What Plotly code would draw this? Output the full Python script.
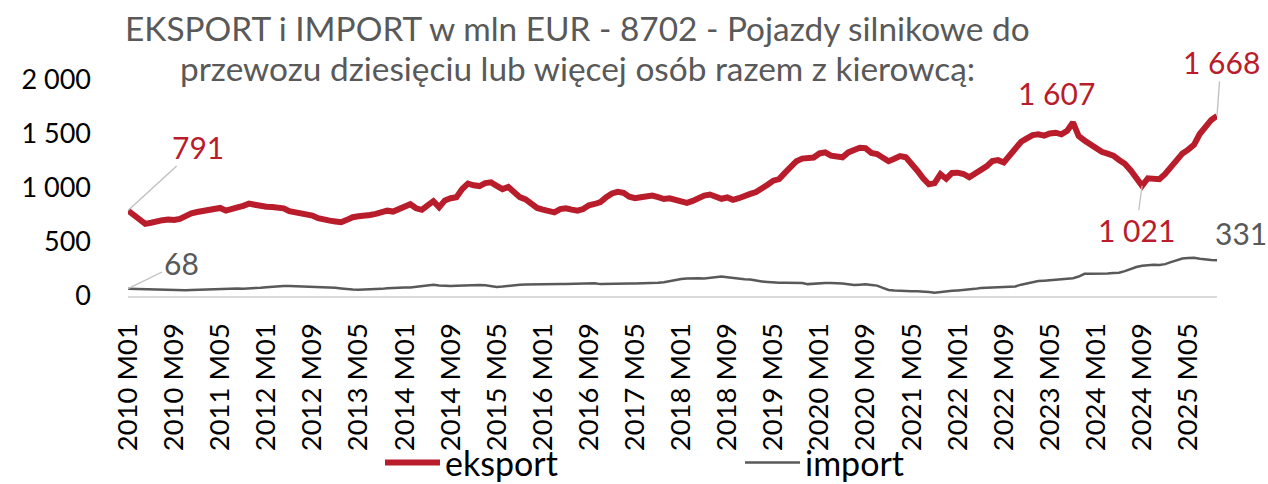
import plotly.graph_objects as go

years = list(range(2010, 2026))
months = [f"{y} M{m:02d}" for y in years for m in range(1, 13)][:190]

eksport = [
    791, 745, 700, 668, 678, 695, 702, 708, 704, 714, 742, 765,
    778, 790, 798, 812, 815, 790, 800, 820, 835, 855, 845, 830,
    826, 825, 822, 812, 785, 778, 770, 758, 745, 720, 702, 698,
    690, 683, 705, 730, 738, 740, 750, 760, 775, 790, 782, 800,
    830, 850, 812, 798, 840, 878, 822, 885, 905, 915, 990, 1040,
    1025, 1018, 1045, 1052, 1020, 990, 1010, 960, 915, 895, 860, 815,
    800, 785, 775, 805, 812, 800, 790, 805, 840, 852, 870, 915,
    950, 965, 955, 920, 905, 915, 925, 930, 915, 898, 905, 889,
    870, 862, 880, 912, 930, 940, 925, 900, 912, 890, 905, 930,
    945, 962, 990, 1030, 1068, 1082, 1140, 1200, 1248, 1272, 1278, 1282,
    1320, 1330, 1300, 1288, 1284, 1330, 1355, 1372, 1368, 1325, 1315, 1280,
    1248, 1270, 1295, 1285, 1232, 1160, 1090, 1034, 1045, 1128, 1085, 1140,
    1142, 1130, 1100, 1130, 1165, 1200, 1250, 1258, 1236, 1300, 1370, 1428,
    1460, 1490, 1497, 1485, 1505, 1512, 1497, 1530, 1607, 1480, 1440, 1405,
    1368, 1335, 1318, 1300, 1260, 1225, 1165, 1100, 1021, 1090, 1092, 1082,
    1130, 1195, 1260, 1320, 1355, 1400, 1500, 1575, 1630, 1668,
]

import_ = [
    68, 66, 65, 62, 60, 58, 56, 56, 55, 54, 53, 55,
    57, 60, 63, 66, 69, 70, 72, 70, 68, 69, 72, 76,
    80, 85, 90, 93, 92, 90, 89, 88, 87, 86, 84, 80,
    76, 70, 64, 60, 59, 60, 60, 62, 66, 72, 76, 77,
    78, 79, 85, 92, 100, 103, 98, 94, 93, 95, 98, 101,
    102, 103, 100, 92, 83, 87, 95, 100, 104, 107, 109, 110,
    110, 111, 112, 112, 112, 114, 117, 120, 122, 118, 110, 112,
    114, 116, 116, 115, 115, 116, 117, 118, 122, 128, 138, 150,
    158, 162, 165, 165, 163, 168, 176, 180, 174, 166, 160, 156,
    152, 140, 135, 130, 125, 122, 122, 122, 122, 120, 110, 115,
    122, 121, 120, 119, 115, 108, 102, 105, 109, 102, 96, 75,
    56, 52, 48, 46, 45, 44, 43, 38, 30, 38, 46, 48,
    52, 55, 60, 66, 73, 77, 80, 83, 84, 86, 89, 105,
    118, 132, 138, 142, 146, 150, 155, 160, 165, 180, 205, 205,
    205, 205, 208, 212, 215, 230, 252, 268, 280, 288, 290, 288,
    295, 314, 330, 347, 352, 354, 345, 337, 333, 331,
]

tick_labels = months[::8]
y_ticks = [0, 500, 1000, 1500, 2000]
y_tick_text = ["0", "500", "1 000", "1 500", "2 000"]

title_lines = ["EKSPORT i IMPORT w mln EUR - 8702 - Pojazdy silnikowe do",
               "przewozu dziesięciu lub więcej osób razem z kierowcą:"]

RED = "#B91C2B"
GRAY = "#595959"
LEAD = "#BFBFBF"
FONT = "Lato"

W, H = 1268, 484
ML, MR, MT, MB = 128, 51, 80, 188
PH = H - MT - MB
PW = W - ML - MR

fig = go.Figure()
fig.add_trace(go.Scatter(x=months, y=eksport, name="eksport", mode="lines",
                         line=dict(color=RED, width=6)))
fig.add_trace(go.Scatter(x=months, y=import_, name="import", mode="lines",
                         line=dict(color=GRAY, width=2.5)))


def fmt(v):
    return f"{v:,}".replace(",", " ")


i_max = eksport.index(max(eksport[150:170]))
i_min = 170 + eksport[170:].index(min(eksport[170:]))
last = len(eksport) - 1

labels = [
    dict(x=months[0], y=eksport[0], text=fmt(eksport[0]), color=RED, ax=70, ay=-64, arrow=True),
    dict(x=months[0], y=import_[0], text=fmt(import_[0]), color=GRAY, ax=53, ay=-26, arrow=True),
    dict(x=months[i_max], y=eksport[i_max], text=fmt(eksport[i_max]), color=RED, ax=-16, ay=-29, arrow=False),
    dict(x=months[i_min], y=eksport[i_min], text=fmt(eksport[i_min]), color=RED, ax=-6, ay=44, arrow=True),
    dict(x=months[last], y=eksport[last], text=fmt(eksport[last]), color=RED, ax=4, ay=-54, arrow=True),
    dict(x=months[last], y=import_[last], text=fmt(import_[last]), color=GRAY, ax=24, ay=-27, arrow=False),
]
for lb in labels:
    if lb["arrow"]:
        fig.add_annotation(x=lb["x"], y=lb["y"], text=lb["text"], showarrow=True,
                           ax=lb["ax"], ay=lb["ay"], arrowhead=0, arrowwidth=1.3,
                           arrowcolor=LEAD, standoff=0,
                           font=dict(family=FONT, size=30, color=lb["color"]))
    else:
        fig.add_annotation(x=lb["x"], y=lb["y"], text=lb["text"], showarrow=False,
                           xshift=lb["ax"], yshift=-lb["ay"],
                           font=dict(family=FONT, size=30, color=lb["color"]))

# title, two lines (centre x ~577 px, line centres ~28 px and ~68 px from top)
for txt, ypx in zip(title_lines, [28, 68]):
    fig.add_annotation(text=txt, xref="paper", yref="paper",
                       x=(577 - ML) / PW, y=(H - MB - ypx) / PH,
                       xanchor="center", yanchor="middle", showarrow=False,
                       font=dict(family=FONT, size=33.4, color=GRAY))

fig.update_layout(
    width=W, height=H,
    margin=dict(l=ML, r=MR, t=MT, b=MB, autoexpand=False),
    paper_bgcolor="white", plot_bgcolor="white",
    font=dict(family=FONT, size=27, color="black"),
    showlegend=True,
    legend=dict(orientation="h", x=(380 - ML) / PW, xanchor="left",
                y=(H - MB - 463) / PH, yanchor="middle",
                font=dict(family=FONT, size=34, color="black"),
                entrywidth=290, itemwidth=55, bgcolor="rgba(0,0,0,0)"),
)
fig.update_xaxes(type="category", range=[0, len(months) - 1],
                 tickmode="array", tickvals=tick_labels, ticktext=tick_labels,
                 tickangle=-90, showgrid=False, zeroline=False, automargin=False,
                 showline=True, linecolor="#D9D9D9", linewidth=2,
                 ticks="", ticklabelstandoff=14,
                 tickfont=dict(family=FONT, size=27.5, color="black"))
fig.update_yaxes(range=[0, 2000], tickvals=y_ticks, ticktext=y_tick_text,
                 showgrid=False, zeroline=False, showline=False, ticks="",
                 automargin=False, ticklabelstandoff=36,
                 tickfont=dict(family=FONT, size=27, color="black"))

fig.write_html("out.html", config={"displayModeBar": False},
               post_script="document.body.style.margin='0px';document.body.style.overflow='hidden';")
